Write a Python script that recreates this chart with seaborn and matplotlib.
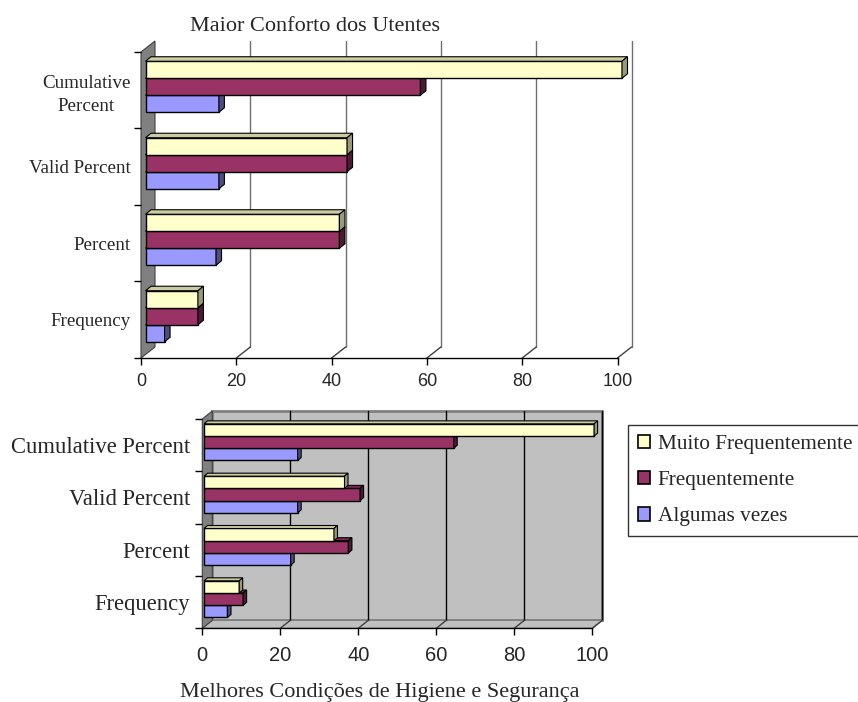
import numpy as np
import pandas as pd
import matplotlib
matplotlib.use("Agg")
import matplotlib.pyplot as plt
from matplotlib.patches import Polygon, Patch, Rectangle
from matplotlib.lines import Line2D
from matplotlib.transforms import IdentityTransform, ScaledTranslation
import seaborn as sns

sns.set_style("white")
plt.rcParams['font.family'] = ['Liberation Serif', 'DejaVu Serif']

stats = ["Cumulative Percent", "Valid Percent", "Percent", "Frequency"]
levels = ["Muito Frequentemente", "Frequentemente", "Algumas vezes"]

# Maior Conforto dos Utentes
conforto_muito = [100.0, 42.3, 40.7, 11]
conforto_freq = [57.7, 42.3, 40.7, 11]
conforto_algumas = [15.4, 15.4, 14.8, 4]

# Melhores Condicoes de Higiene e Seguranca
higiene_muito = [100.0, 36.0, 33.3, 9]
higiene_freq = [64.0, 40.0, 37.0, 10]
higiene_algumas = [24.0, 24.0, 22.2, 6]

x_ticks = [0, 20, 40, 60, 80, 100]

front = {"Muito Frequentemente": "#FFFFCC", "Frequentemente": "#993366", "Algumas vezes": "#9999FF"}
topc = {"#FFFFCC": "#CCCCA3", "#993366": "#7A2952", "#9999FF": "#7A7ACC"}
sidec = {"#FFFFCC": "#99997A", "#993366": "#4D1A33", "#9999FF": "#4D4D80"}


def long_df(muito, freq, algumas):
    rows = []
    for lvl, vals in zip(levels, [muito, freq, algumas]):
        for s, v in zip(stats, vals):
            rows.append({"stat": s, "level": lvl, "value": v})
    return pd.DataFrame(rows)


def dpt(ax, x, y, dx=0.0, dy=0.0):
    px, py = ax.transData.transform((x, y))
    return (px + dx, py + dy)


def poly(ax, pts, fc, ec="black", lw=0.8, z=1.0):
    p = Polygon(pts, closed=True, facecolor=fc, edgecolor=ec, linewidth=lw,
                transform=IdentityTransform(), clip_on=False, zorder=z)
    ax.add_artist(p)


def seg(ax, p1, p2, color, lw=1.0, z=0.6):
    ln = Line2D([p1[0], p2[0]], [p1[1], p2[1]], color=color, linewidth=lw,
                transform=IdentityTransform(), clip_on=False, zorder=z)
    ax.add_artist(ln)


def chart(ax, df, width, wall, boff, bdep, shaded, grid_color, lab_size, tick_size, ypad, xpad):
    sns.barplot(data=df, x="value", y="stat", hue="level", order=stats, hue_order=levels,
                palette=front, width=width, orient="h", saturation=1, errorbar=None,
                edgecolor="black", linewidth=1.0, legend=False, ax=ax)
    bars = [p for p in ax.patches if isinstance(p, Rectangle)]
    ax.set_xlim(0, 100)
    ax.set_ylim(3.5, -0.5)
    ax.set_xlabel("")
    ax.set_ylabel("")
    ax.patch.set_visible(False)
    for s in ["top", "right", "left"]:
        ax.spines[s].set_visible(False)
    ax.spines["bottom"].set_color("black")
    ax.spines["bottom"].set_linewidth(1.0)

    wx, wy = wall
    # walls
    fb = dpt(ax, 0, 3.5)
    ft = dpt(ax, 0, -0.5)
    rb = dpt(ax, 100, 3.5)
    rt = dpt(ax, 100, -0.5)
    if shaded:
        poly(ax, [(fb[0] + wx, fb[1] + wy), (rb[0] + wx, rb[1] + wy), (rt[0] + wx, rt[1] + wy),
                  (ft[0] + wx, ft[1] + wy)], "#C0C0C0", ec="#808080", lw=2.0, z=0.3)
        poly(ax, [fb, rb, (rb[0] + wx, rb[1] + wy), (fb[0] + wx, fb[1] + wy)], "#C0C0C0",
             ec="#808080", lw=1.0, z=0.35)
    poly(ax, [fb, ft, (ft[0] + wx, ft[1] + wy), (fb[0] + wx, fb[1] + wy)], "#808080",
         ec="#404040", lw=0.8, z=0.5)
    for v in x_ticks[1:]:
        b = dpt(ax, v, 3.5)
        t = dpt(ax, v, -0.5)
        seg(ax, (b[0] + wx, b[1] + wy), (t[0] + wx, t[1] + wy), grid_color, 1.0)
        seg(ax, b, (b[0] + wx, b[1] + wy), "#404040", 1.0)

    # 3d bars
    fx, fy = boff
    dx, dy = bdep
    off = ax.transData + ScaledTranslation(fx / 100, fy / 100, ax.figure.dpi_scale_trans)
    for bar in bars:
        x0, y0 = bar.get_x(), bar.get_y()
        w, h = bar.get_width(), bar.get_height()
        yc = y0 + h / 2
        z = 3 + (4 - yc)
        bar.set_transform(off)
        bar.set_zorder(z)
        bar.set_clip_on(False)
        col = matplotlib.colors.to_hex(bar.get_facecolor()).upper()
        L, T = dpt(ax, x0, y0, fx, fy)
        R, B = dpt(ax, x0 + w, y0 + h, fx, fy)
        poly(ax, [(L, T), (R, T), (R + dx, T + dy), (L + dx, T + dy)], topc[col], z=z)
        poly(ax, [(R, B), (R, T), (R + dx, T + dy), (R + dx, B + dy)], sidec[col], z=z)

    ax.set_xticks(x_ticks)
    ax.set_xticklabels([str(v) for v in x_ticks], fontfamily="Liberation Sans", fontsize=tick_size)
    ax.tick_params(axis="x", direction="out", length=5, width=1, color="black", pad=xpad, bottom=True)
    ax.set_yticks(range(len(stats)))
    ax.set_yticks([-0.5, 0.5, 1.5, 2.5, 3.5], minor=True)
    ax.tick_params(axis="y", which="major", length=0, pad=ypad, labelsize=lab_size, left=True)
    ax.tick_params(axis="y", which="minor", length=5, width=1, color="black", left=True)


fig = plt.figure(figsize=(8.58, 7.02), dpi=100)

ax1 = fig.add_axes([0.16434, 0.49003, 0.55536, 0.43590])
chart(ax1, long_df(conforto_muito, conforto_freq, conforto_algumas), 0.667,
      (14, 11), (4.5, 3.5), (5.5, 4.5), False, "#707070", 13.7, 13, 7.5, 6)
ax1.set_yticklabels(["Cumulative\nPercent", "Valid Percent", "Percent", "Frequency"])
ax1.get_yticklabels()[0].set_multialignment("center")
ax1.get_yticklabels()[0].set_linespacing(1.45)

ax2 = fig.add_axes([0.23578, 0.10499, 0.45455, 0.29815])
chart(ax2, long_df(higiene_muito, higiene_freq, higiene_algumas), 0.70,
      (10, 8), (1.8, 3.0), (3.5, 3.0), True, "black", 16.3, 14.5, 8.5, 8)
ax2.set_yticklabels(stats)

fig.text(314.5 / 858, 1 - 30.7 / 702, "Maior Conforto dos Utentes", ha="center",
         va="baseline", fontsize=16)
fig.text(380 / 858, 1 - 697 / 702, "Melhores Condições de Higiene e Segurança", ha="center",
         va="baseline", fontsize=16)

handles = [Patch(facecolor=front[l], edgecolor="black", linewidth=1.2, label=l) for l in levels]
leg = fig.legend(handles=handles, loc="upper left", bbox_to_anchor=(628 / 858, 1 - 425 / 702),
                 fontsize=15.3, frameon=True, fancybox=False, shadow=False, borderpad=0.45,
                 handlelength=0.6, handleheight=0.6, handletextpad=0.35, labelspacing=0.8,
                 borderaxespad=0)
leg.get_frame().set_edgecolor("black")
leg.get_frame().set_linewidth(1.0)

fig.savefig("out.png", dpi=100)
